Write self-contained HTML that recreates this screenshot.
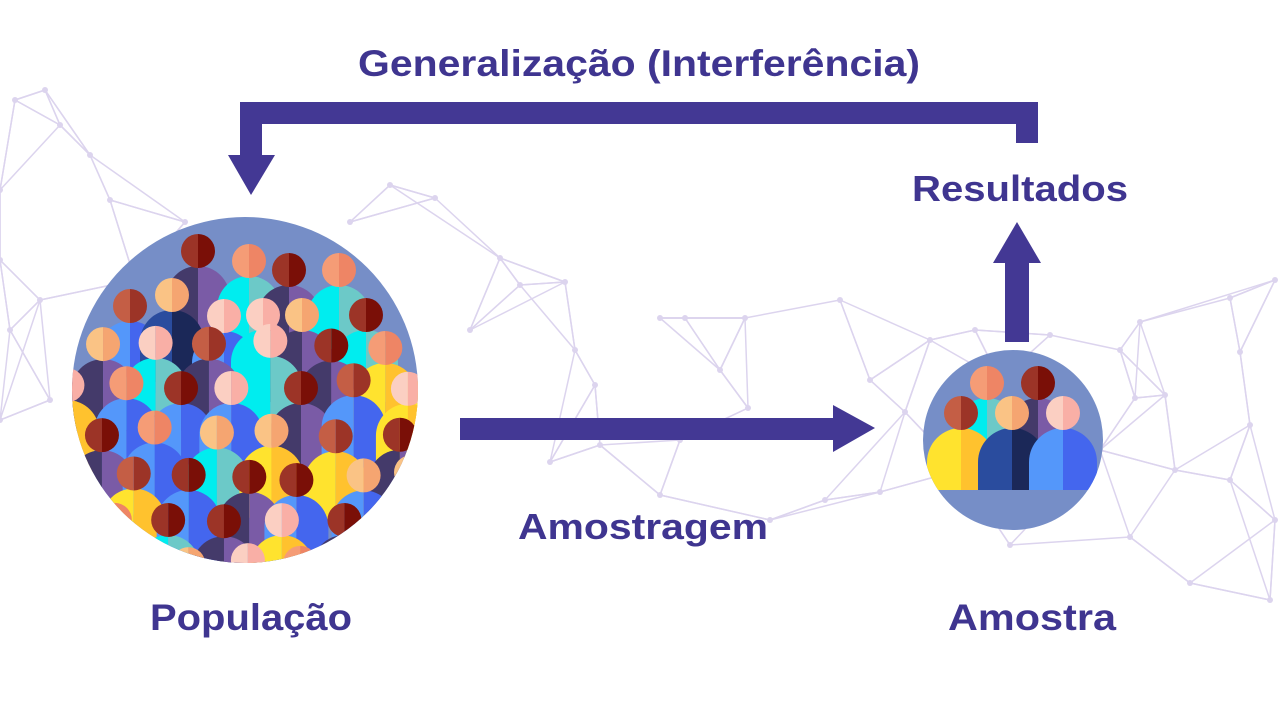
<!DOCTYPE html>
<html><head><meta charset="utf-8"><style>
html,body{margin:0;padding:0;background:#fff;width:1279px;height:715px;overflow:hidden}
svg{display:block}
text{font-family:"Liberation Sans",sans-serif;font-weight:bold;fill:#3F3590}
</style></head><body>
<svg id="s" width="1279" height="715" viewBox="0 0 1279 715" xmlns="http://www.w3.org/2000/svg">
<defs>
<clipPath id="cl"><circle cx="245" cy="390" r="173"/></clipPath>
<clipPath id="cr"><rect x="900" y="340" width="220" height="150"/></clipPath>
<clipPath id="cr2"><circle cx="1013" cy="440" r="90"/></clipPath>
</defs>
<g id="net" stroke="#DCD4EE" stroke-width="1.5" fill="none"></g>
<g id="dots" fill="#DCD4EE"></g>
<circle cx="245" cy="390" r="173" fill="#768EC7"/>
<g id="pop" clip-path="url(#cl)"></g>
<circle cx="1013" cy="440" r="90" fill="#768EC7"/>
<g clip-path="url(#cr2)"><g id="smp" clip-path="url(#cr)"></g></g>
<g fill="#433894">
<rect x="240" y="102" width="798" height="22"/>
<rect x="240" y="102" width="22" height="55"/>
<polygon points="228,155 275,155 251,195"/>
<rect x="1016" y="102" width="22" height="41"/>
<rect x="1005" y="260" width="24" height="82"/>
<polygon points="993,263 1041,263 1017,222"/>
<rect x="460" y="418" width="375" height="22"/>
<polygon points="833,405 833,452 875,428"/>
</g>
<text x="358" y="76" font-size="37" textLength="562" lengthAdjust="spacingAndGlyphs">Generalização (Interferência)</text>
<text x="912" y="201" font-size="36" textLength="216" lengthAdjust="spacingAndGlyphs">Resultados</text>
<text x="518" y="539" font-size="36" textLength="250" lengthAdjust="spacingAndGlyphs">Amostragem</text>
<text x="150" y="630" font-size="37" textLength="202" lengthAdjust="spacingAndGlyphs">População</text>
<text x="948" y="630" font-size="37" textLength="168" lengthAdjust="spacingAndGlyphs">Amostra</text>
</svg>
<script>
(function(){
var NS="http://www.w3.org/2000/svg";
function el(p,t,a){var e=document.createElementNS(NS,t);for(var k in a)e.setAttribute(k,a[k]);p.appendChild(e);return e;}
var B=[["#FFE32E","#FFC22E"],["#00EDEF","#6CC9C8"],["#443A6A","#7A5BA6"],["#2A4C9E","#1B2858"],["#5497FA","#4466EE"]];
var H=[["#F59C76","#EE8565"],["#9C3427","#7A0F07"],["#FAC385","#F5A571"],["#FBCFC2","#F9AFA6"],["#C45E45","#9C3427"]];
function person(g,cx,cy,hr,br,b,h,hgt){
  var t=cy+hr-2;hgt=hgt||80;
  el(g,"path",{d:"M"+(cx-br)+" "+(t+br)+" A"+br+" "+br+" 0 0 1 "+cx+" "+t+" V"+(t+br+hgt)+" H"+(cx-br)+"Z",fill:b[0]});
  el(g,"path",{d:"M"+cx+" "+t+" A"+br+" "+br+" 0 0 1 "+(cx+br)+" "+(t+br)+" V"+(t+br+hgt)+" H"+cx+"Z",fill:b[1]});
  el(g,"path",{d:"M"+cx+" "+(cy-hr)+" A"+hr+" "+hr+" 0 0 0 "+cx+" "+(cy+hr)+"Z",fill:h[0]});
  el(g,"path",{d:"M"+cx+" "+(cy-hr)+" A"+hr+" "+hr+" 0 0 1 "+cx+" "+(cy+hr)+"Z",fill:h[1]});
}
var seed=11;function rnd(){seed=(seed*16807)%2147483647;return seed/2147483647;}
var pop=document.getElementById("pop");
var tops=[[198,251,2,1],[249,261,1,0],[289,270,2,1],[339,270,1,0],[130,306,4,4],[172,295,3,2],[224,316,4,3],[263,315,1,3],[302,315,2,2],[366,315,1,1]];
tops.forEach(function(p){person(pop,p[0],p[1],17,32,B[p[2]],H[p[3]],40);});
var rows=[[345,0],[385,22],[432,5],[477,30],[520,10],[560,35]];
rows.forEach(function(r){
  for(var x=40+r[1];x<470;x+=58){
    person(pop,x+(rnd()*14-7),r[0]+(rnd()*10-5),17,32,B[Math.floor(rnd()*5)],H[Math.floor(rnd()*5)],40);
  }
});
var smp=document.getElementById("smp");
person(smp,987,383,17,32,B[1],H[0]);
person(smp,1038,383,17,32,B[2],H[1]);
person(smp,961,413,17,34,B[0],H[4]);
person(smp,1012,413,17,34,B[3],H[2]);
person(smp,1063,413,17,34,B[4],H[3]);
var net=document.getElementById("net"),dots=document.getElementById("dots");
var pts=[[0,190],[40,300],[15,100],[90,155],[60,125],[185,222],[135,280],[50,400],[10,330],[0,260],[45,90],[110,200],[390,185],[435,198],[350,222],[500,258],[520,285],[470,330],[565,282],[575,350],[595,385],[550,462],[600,445],[660,318],[685,318],[720,370],[745,318],[748,408],[680,440],[660,495],[770,520],[840,300],[870,380],[905,412],[930,340],[975,330],[1050,335],[1000,380],[1120,350],[1140,322],[1135,398],[1165,395],[1230,298],[1275,280],[1240,352],[1250,425],[1175,470],[1230,480],[1130,537],[1190,583],[1270,600],[1100,450],[1010,545],[960,470],[825,500],[880,492],[1275,520],[0,420]];
for(var i=0;i<pts.length;i++){
  var d=[];for(var j=0;j<pts.length;j++){if(i!=j){var dx=pts[i][0]-pts[j][0],dy=pts[i][1]-pts[j][1];d.push([dx*dx+dy*dy,j]);}}
  d.sort(function(a,b){return a[0]-b[0]});
  for(var k=0;k<3;k++){var jj=d[k][1];if(d[k][0]<150*150)el(net,"line",{x1:pts[i][0],y1:pts[i][1],x2:pts[jj][0],y2:pts[jj][1]});}
  el(dots,"circle",{cx:pts[i][0],cy:pts[i][1],r:3});
}
})();
</script>
</body></html>
